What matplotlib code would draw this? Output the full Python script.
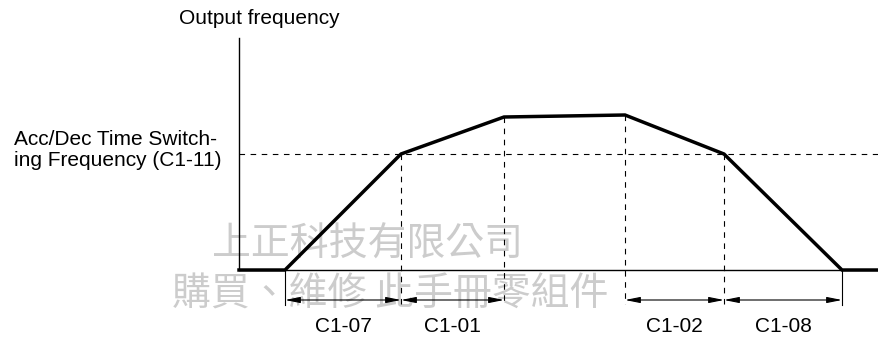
import matplotlib.pyplot as plt

# --- Data (time / frequency, arbitrary units) ---
t_pts = [0, 46, 162, 265, 386, 485, 603, 640]
f_pts = [0, 0, 116, 153, 155, 116, 0, 0]

f_switch = 116
knee_t = [162, 265, 386, 485]
knee_f = [116, 153, 155, 116]

spans = [(46, 162), (162, 265), (386, 485), (485, 603)]
span_labels = ["C1-07", "C1-01", "C1-02", "C1-08"]

W, H = 879, 338
fig = plt.figure(figsize=(W / 100, H / 100), dpi=100)
ax = fig.add_axes([239 / W, (H - 270) / H, 640 / W, 232 / H])
ax.set_xlim(0, 640)
ax.set_ylim(0, 232)
for s in ["top", "right"]:
    ax.spines[s].set_visible(False)
ax.spines["left"].set_linewidth(1.0)
ax.spines["bottom"].set_linewidth(1.0)
ax.set_xticks([])
ax.set_yticks([])

font = "Liberation Sans"
fs = 15

# watermark (drawn first, light grey)
wm = dict(family=["Noto Sans CJK TC", "DejaVu Sans"], color="#cccccc",
          fontsize=28, fontweight="light", ha="left", va="center", clip_on=False, zorder=0)
ax.text(-27, 25, "上正科技有限公司", **wm)
ax.text(-67, -25, "購買、維修 此手冊零組件", **wm)

dash = dict(color="black", lw=0.8, linestyle=(0, (5, 5)), clip_on=False)
ax.plot([0, 640], [f_switch, f_switch], **dash)
for t, f in zip(knee_t, knee_f):
    ax.plot([t, t], [f, -34], **dash)

# output frequency curve
ax.plot(t_pts, f_pts, color="black", lw=2.5, solid_joinstyle="miter", clip_on=False, zorder=3)

# extension lines
for t in [46, 603]:
    ax.plot([t, t], [0, -35], color="black", lw=0.8, clip_on=False)

# dimension arrows
for (a, b), lab in zip(spans, span_labels):
    ax.annotate("", xy=(a, -30), xytext=(b, -30),
                arrowprops=dict(arrowstyle="<|-|>,head_length=0.9,head_width=0.18",
                                color="black", lw=0.8, shrinkA=0, shrinkB=0),
                annotation_clip=False)
    ax.text((a + b) / 2, -56, lab, ha="center", va="center", fontsize=fs,
            family=font, clip_on=False)

ax.text(20, 252, "Output frequency", ha="center", va="center", fontsize=fs, family=font)
ax.text(-225, 120, "Acc/Dec Time Switch-\ning Frequency (C1-11)", ha="left", va="center",
        fontsize=fs, family=font, linespacing=1.1)

fig.savefig("out.png", dpi=100)
